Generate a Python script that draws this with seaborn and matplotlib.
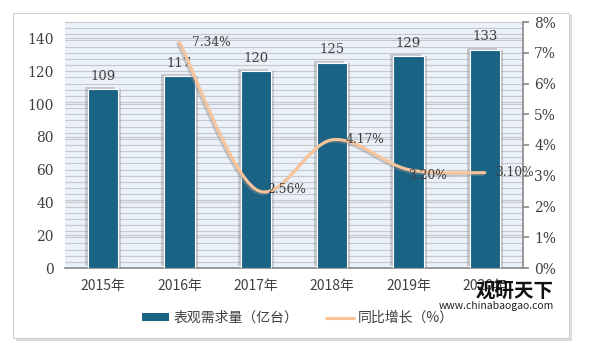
import numpy as np
import pandas as pd
import matplotlib
matplotlib.use('Agg')
import matplotlib.pyplot as plt
import matplotlib.patheffects as pe
from matplotlib.path import Path
from matplotlib.patches import PathPatch, Rectangle
from matplotlib.lines import Line2D
import seaborn as sns

# chart data
years = ['2015年', '2016年', '2017年', '2018年', '2019年', '2020年']
demand = [109, 117, 120, 125, 129, 133]
growth_years = ['2016年', '2017年', '2018年', '2019年', '2020年']
growth = [7.34, 2.56, 4.17, 3.20, 3.10]

bar_color = '#1A6385'
line_color = '#F9C499'
text_color = '#404040'

sns.set_theme(style='white')
plt.rcParams['font.family'] = ['Noto Sans CJK SC', 'DejaVu Sans']

fig = plt.figure(figsize=(5.9, 3.59), dpi=100)
fig.patch.set_facecolor('white')

# card with shadow
fig.patches.append(Rectangle((16/590, 1-341/359), 556/590, 326/359, transform=fig.transFigure,
                             facecolor='#C8C8C8', edgecolor='none', alpha=0.6, zorder=-3))
fig.patches.append(Rectangle((13/590, 1-338/359), 556/590, 325/359, transform=fig.transFigure,
                             facecolor='white', edgecolor='#D0D0D0', lw=0.8, zorder=-2))

ax = fig.add_axes([65/590, 1-268/359, 458/590, 246/359])
ax.set_facecolor('#EAF1F8')

df = pd.DataFrame({'year': years, 'demand': demand})
sns.barplot(data=df, x='year', y='demand', color=bar_color, width=0.4, ax=ax,
            edgecolor='white', linewidth=0.8, saturation=1, zorder=3)
for p in ax.patches:
    p.set_path_effects([pe.SimplePatchShadow(offset=(-2.2, 1.5), shadow_rgbFace='#707070', alpha=0.3),
                        pe.SimplePatchShadow(offset=(2.2, 0), shadow_rgbFace='#707070', alpha=0.3),
                        pe.Normal()])
for i, v in enumerate(demand):
    ax.text(i, v + 4, str(v), ha='center', va='bottom', fontsize=9.5, color=text_color,
            family=['DejaVu Serif'], zorder=6)

ax.set_ylim(0, 150)
ax.set_xlim(-0.5, 5.5)
ax.set_yticks(range(0, 141, 20))
ax.set_yticks(np.arange(0, 150.01, 3.75), minor=True)
ax.yaxis.grid(True, which='both', color='#C5C9CE', lw=0.8, zorder=0)
ax.set_axisbelow(True)
ax.set_xlabel('')
ax.set_ylabel('')
for s in ['top', 'right', 'left']:
    ax.spines[s].set_visible(False)
ax.spines['bottom'].set_color('#8C8C8C')
ax.tick_params(axis='y', which='both', length=0, labelsize=10, colors=text_color, pad=8)
ax.tick_params(axis='x', length=0, labelsize=10, colors=text_color, pad=8)
for lab in ax.get_yticklabels():
    lab.set_family(['DejaVu Serif'])

ax2 = ax.twinx()
ax2.set_ylim(0, 8)
ax2.set_yticks(range(0, 9))
ax2.set_yticklabels([f'{v}%' for v in range(0, 9)])
for s in ['top', 'left', 'bottom']:
    ax2.spines[s].set_visible(False)
ax2.spines['right'].set_color('#8C8C8C')
ax2.tick_params(axis='y', length=4, direction='out', color='#8C8C8C', labelsize=10,
                colors=text_color, pad=4)
for lab in ax2.get_yticklabels():
    lab.set_family(['DejaVu Serif'])
    lab.set_color(text_color)

# smooth growth line (cubic bezier through the points)
xs = np.array([years.index(y) for y in growth_years], dtype=float)
ys = np.array(growth)
pts = np.column_stack([xs, ys])
ext = np.vstack([pts[0], pts, pts[-1]])
verts = [tuple(pts[0])]
codes = [Path.MOVETO]
for k in range(len(pts) - 1):
    p0, p1, p2, p3 = ext[k], ext[k + 1], ext[k + 2], ext[k + 3]
    c1 = p1 + (p2 - p0) / 6
    c2 = p2 - (p3 - p1) / 6
    verts += [tuple(c1), tuple(c2), tuple(p2)]
    codes += [Path.CURVE4] * 3
curve = PathPatch(Path(verts, codes), facecolor='none', edgecolor=line_color, lw=2.2, zorder=5,
                  capstyle='round')
curve.set_path_effects([pe.SimpleLineShadow(offset=(-1.2, -1.2), shadow_color='#909090', alpha=0.45),
                        pe.Normal()])
ax2.add_patch(curve)

offsets = {'2016年': (0.17, 0.0),
           '2017年': (0.15, 0.0),
           '2018年': (0.17, 0.0),
           '2019年': (0.0, -0.2),
           '2020年': (0.13, 0.0)}
for yr, v in zip(growth_years, growth):
    dx, dy = offsets[yr]
    ax2.text(years.index(yr) + dx, v + dy, f'{v:.2f}%', ha='left', va='center', fontsize=8.8,
             color=text_color, family=['DejaVu Serif'], zorder=6)

# legend
handles = [Rectangle((0, 0), 1, 1, facecolor=bar_color, edgecolor='none'),
           Line2D([0], [0], color=line_color, lw=2.2)]
fig.legend(handles, ['表观需求量（亿台）', '同比增长（%）'], loc='center',
           bbox_to_anchor=(0.505, 1-318/359), ncol=2, frameon=False, fontsize=10,
           handlelength=2.0, handleheight=0.5, handletextpad=0.3, columnspacing=2.0,
           labelcolor=text_color)

# watermark
fig.text(0.872, 1-291/359, '观研天下', ha='center', va='center', fontsize=14, fontweight='bold',
         color='#111111', zorder=10)
fig.text(0.842, 1-306/359, 'www.chinabaogao.com', ha='center', va='center', fontsize=7.5,
         color='#222222', zorder=10)

fig.savefig('out.png', dpi=100)
